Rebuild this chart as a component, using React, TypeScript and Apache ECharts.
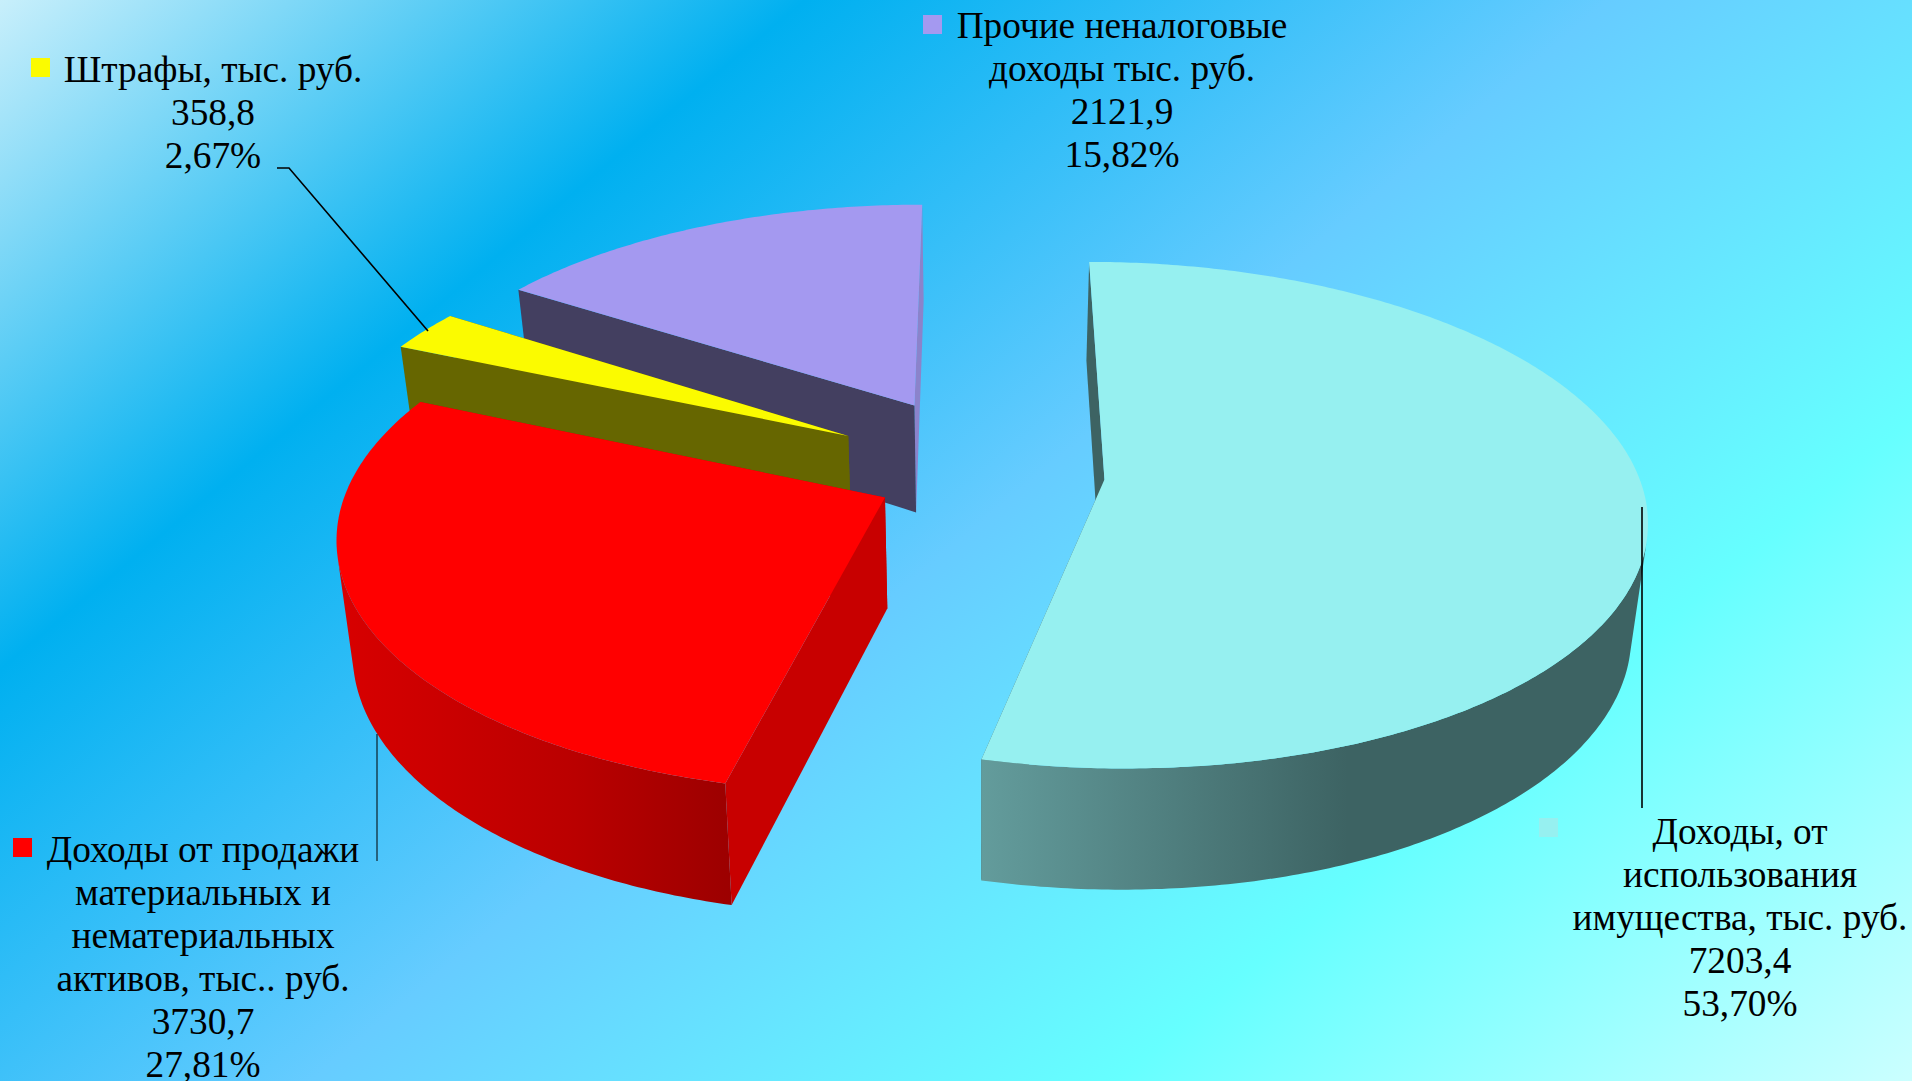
import React, { useEffect, useRef } from "react";
import * as echarts from "echarts";

const W = 1912;
const H = 1081;

const names = [
  "Доходы, от\nиспользования\nимущества, тыс. руб.",
  "Доходы от продажи\nматериальных и\nнематериальных\nактивов, тыс.. руб.",
  "Штрафы, тыс. руб.",
  "Прочие неналоговые\nдоходы тыс. руб.",
];
const values = [7203.4, 3730.7, 358.8, 2121.9];
const explode = [0.23, 0.2, 0.3, 0.31];
const shiftX = [0.004, 0.003, 0.012, 0.02];
const shiftY = [-0.008, 0, -0.02, -0.02];
const paintOrder = [3, 2, 1, 0];
const topColors = ["#96f0f0", "#ff0000", "#fbfb00", "#a499f0"];
const startWallColors = ["#3d6363", "#c80000", "#666600", "#433f60"];
const endWallColors = ["#3d6363", "#c80000", "#666600", "#8b83cb"];
const outerStops: [number, string][][] = [
  [[0, "#639c9c"], [0.55, "#3d6363"], [1, "#3d6363"]],
  [[0, "#d80000"], [0.6, "#ba0000"], [1, "#9c0000"]],
  [[0, "#666600"], [1, "#666600"]],
  [[0, "#8b83cb"], [1, "#8b83cb"]],
];
const labelCenters = [
  [1740, 809],
  [203, 827.5],
  [213, 47.5],
  [1122, 3.5],
];
const keyBoxes = [
  [1539, 818],
  [13, 838],
  [31, 58],
  [923, 15],
];
const leaders = [
  [[1642, 507], [1642, 808]],
  [[377, 734], [377, 861]],
  [[277, 168], [289, 168], [428, 331]],
];
const leaderWidths = [1.6, 1, 1.6];

const VX = 980;
const VY = 475;
const FX = 534;
const FY = 247;
const K = 0.14;
const DEPTH = 110;
const DEPTH_K = 0.1;
const BOTTOM_X = 0.975;

const total = values.reduce((a, b) => a + b, 0);
const fmt = (v: number, d: number) => v.toFixed(d).replace(".", ",");

function project(X: number, Y: number, bottom: boolean): number[] {
  const s = 1 / (1 - K * Y);
  const x = VX + FX * X * s * (bottom ? BOTTOM_X : 1);
  const y = VY + FY * Y * s + (bottom ? DEPTH * (1 + DEPTH_K * Y) : 0);
  return [x, y];
}

function renderSlice(params: any, api: any) {
  const i = params.dataIndex;
  const before = values.slice(0, i).reduce((a, b) => a + b, 0);
  const a0 = (before / total) * Math.PI * 2;
  const a1 = ((before + api.value(0)) / total) * Math.PI * 2;
  const mid = (a0 + a1) / 2;
  const ex = explode[i] * Math.sin(mid) + shiftX[i];
  const ey = -explode[i] * Math.cos(mid) + shiftY[i];
  const steps = Math.max(8, Math.ceil((a1 - a0) * 90));
  const arc = (bottom: boolean) => {
    const pts: number[][] = [];
    for (let j = 0; j <= steps; j++) {
      const a = a0 + ((a1 - a0) * j) / steps;
      pts.push(project(ex + Math.sin(a), ey - Math.cos(a), bottom));
    }
    return pts;
  };
  const top = arc(false);
  const bot = arc(true);
  const apexT = project(ex, ey, false);
  const apexB = project(ex, ey, true);
  const base = paintOrder[i] * 10;
  const poly = (points: number[][], fill: any, z: number) => ({
    type: "polygon",
    z2: base + z,
    silent: true,
    shape: { points },
    style: { fill, stroke: null },
  });

  // Only the part of the rim that faces the viewer is a simple strip.
  let first = -1;
  let last = -1;
  for (let j = 0; j < steps; j++) {
    const tx = top[j + 1][0] - top[j][0];
    const ty = top[j + 1][1] - top[j][1];
    const dx = bot[j][0] - top[j][0];
    const dy = bot[j][1] - top[j][1];
    if (tx * dy - ty * dx < 0) {
      if (first < 0) first = j;
      last = j + 1;
    }
  }
  const children: any[] = [
    poly([apexT, top[steps], bot[steps], apexB], endWallColors[i], 0),
  ];
  if (first >= 0) {
    const rimTop = top.slice(first, last + 1);
    const rimBot = bot.slice(first, last + 1).reverse();
    children.push(
      poly(rimTop.concat(rimBot), {
        type: "linear",
        x: 0,
        y: 0,
        x2: 1,
        y2: 0,
        colorStops: outerStops[i].map(([offset, color]) => ({ offset, color })),
      }, 1)
    );
  }
  children.push(poly([apexT, top[0], bot[0], apexB], startWallColors[i], 2));
  children.push(poly([apexT].concat(top), topColors[i], 3));
  return { type: "group", children };
}

export default function App() {
  const ref = useRef<HTMLDivElement>(null);
  useEffect(() => {
    document.body.style.margin = "0";
    const chart = echarts.init(ref.current!, undefined, { renderer: "svg" });
    const font = '38px "Liberation Serif", "Times New Roman", serif';
    const graphics: any[] = [];
    leaders.forEach((points, i) => {
      graphics.push({
        type: "polyline",
        z: 5,
        shape: { points },
        style: { stroke: "#000", lineWidth: leaderWidths[i], fill: null },
      });
    });
    values.forEach((v, i) => {
      graphics.push({
        type: "rect",
        z: 5,
        shape: { x: keyBoxes[i][0], y: keyBoxes[i][1], width: 19, height: 19 },
        style: { fill: topColors[i] },
      });
      graphics.push({
        type: "text",
        z: 5,
        x: labelCenters[i][0],
        y: labelCenters[i][1],
        scaleX: 0.982,
        style: {
          text: `${names[i]}\n${fmt(v, 1)}\n${fmt((v / total) * 100, 2)}%`,
          align: "center",
          verticalAlign: "top",
          font,
          lineHeight: 43,
          fill: "#000",
        },
      });
    });
    chart.setOption({
      animation: false,
      backgroundColor: {
        type: "linear",
        x: 0,
        y: 0,
        x2: 1316,
        y2: 1583,
        global: true,
        colorStops: [
          { offset: 0, color: "#c8effb" },
          { offset: 0.25, color: "#00b0f0" },
          { offset: 0.5, color: "#66ccff" },
          { offset: 0.75, color: "#66ffff" },
          { offset: 1, color: "#ccffff" },
        ],
      },
      series: [
        {
          type: "custom",
          coordinateSystem: "none",
          silent: true,
          data: values.map((v) => [v]),
          renderItem: renderSlice,
        },
      ],
      graphic: graphics,
    });
    return () => chart.dispose();
  }, []);
  return <div ref={ref} style={{ width: W, height: H, display: "block" }} />;
}
